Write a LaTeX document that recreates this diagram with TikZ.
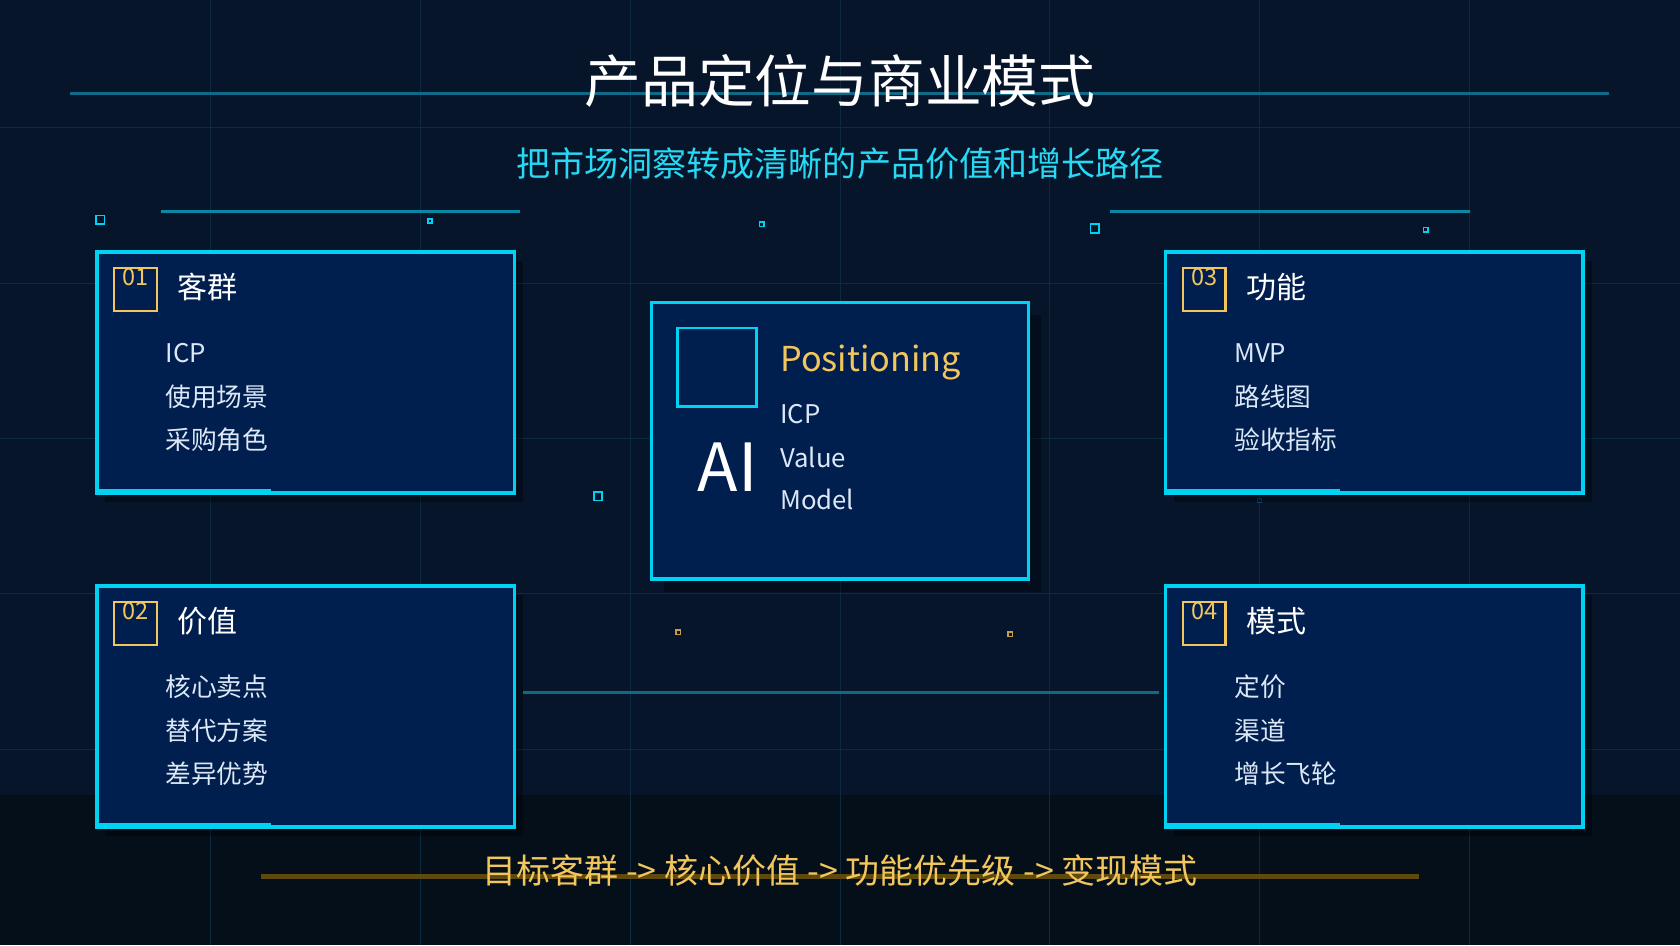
\documentclass[tikz,border=0pt]{standalone}
\usepackage{fontspec}
\setmainfont{Noto Sans CJK SC}
\definecolor{bg}{HTML}{07152B}
\definecolor{bgb}{HTML}{040F1A}
\definecolor{grid}{HTML}{0C2A40}
\definecolor{cy}{HTML}{00D2F2}
\definecolor{teal}{HTML}{0E6A86}
\definecolor{card}{HTML}{001E4E}
\definecolor{gold}{HTML}{F2C65C}
\definecolor{dgold}{HTML}{5E4A0E}
\definecolor{txt}{HTML}{DCE8F6}
\begin{document}
\begin{tikzpicture}[x=1pt,y=-1pt,
  cardst/.style={draw=cy,line width=3.5pt,fill=card},
  shad/.style={fill=black,opacity=0.35},
  badge/.style={draw=gold,line width=2pt},
  num/.style={text=gold,font=\fontsize{22}{22}\selectfont,anchor=north,inner sep=0},
  head/.style={text=white,font=\fontsize{28}{28}\selectfont,anchor=west,inner sep=0},
  item/.style={text=txt,font=\fontsize{24}{24}\selectfont,anchor=west,inner sep=0},
  dot/.style={draw=cy,line width=1.5pt},
  gdot/.style={draw=gold!80!black,line width=1.5pt},
  fdot/.style={draw=teal!50!card,line width=1pt}]
\fill[bg] (0,0) rectangle (1568,882);
\fill[bgb] (0,742) rectangle (1568,882);
\foreach \x in {196,392,588,784,980,1176,1372} \draw[grid,line width=0.8pt] (\x,0) -- (\x,882);
\foreach \y in {119,264,409,554,699} \draw[grid,line width=0.8pt] (0,\y) -- (1568,\y);
% title
\draw[teal,line width=2.5pt] (65,87) -- (1502,87);
\node[text=white,font=\fontsize{53}{53}\selectfont,inner sep=0] (title) at (784,75) {产品定位与商业模式};
\node[text=cy!85!white,font=\fontsize{31.8}{32}\selectfont,inner sep=0] (sub) at (784,152) {把市场洞察转成清晰的产品价值和增长路径};
\draw[teal!70!cy,line width=3pt] (150,197) -- (485,197);
\draw[teal!70!cy,line width=3pt] (1036,197) -- (1372,197);
% dots
\draw[dot] (89,201) rectangle (97,209);
\draw[dot] (399,204) rectangle (403,208);
\draw[dot] (709,207) rectangle (713,211);
\draw[dot] (1018,209) rectangle (1026,217);
\draw[dot] (1329,212) rectangle (1333,216);
\draw[dot] (554,459) rectangle (562,467);
\draw[gdot] (631,588) rectangle (635,592);
\draw[gdot] (941,590) rectangle (945,594);
\draw[fdot] (321,584) rectangle (329,592);
\draw[fdot] (1251,593) rectangle (1259,601);
\draw[fdot] (1097,338) rectangle (1101,342);
\draw[fdot] (1406,340) rectangle (1410,344);
\draw[fdot] (1174,465) rectangle (1178,469);
\draw[fdot] (864,462) rectangle (868,466);
% connector line
\draw[teal,line width=2.5pt] (488,646) -- (1082,646);
% cards
\foreach \cx/\cy/\n/\h/\a/\b/\c in {90/235/01/客群/ICP/使用场景/采购角色, 90/547/02/价值/核心卖点/替代方案/差异优势, 1088/235/03/功能/MVP/路线图/验收指标, 1088/547/04/模式/定价/渠道/增长飞轮}{
  \fill[shad] (\cx+8,\cy+8) rectangle (\cx+398,\cy+233);
  \draw[cardst] (\cx,\cy) rectangle (\cx+390,\cy+225);
  \fill[cy] (\cx,\cy+221) rectangle (\cx+163,\cy+227);
  \draw[badge] (\cx+16,\cy+15) rectangle (\cx+56,\cy+55);
  \node[num] at (\cx+36,\cy+15) {\n};
  \node[head] at (\cx+75,\cy+33) {\h};
  \node[item] at (\cx+64,\cy+94) {\a};
  \node[item] at (\cx+64,\cy+135) {\b};
  \node[item] at (\cx+64,\cy+175) {\c};
}
% center card
\fill[shad] (620,294) rectangle (972,552);
\draw[cardst] (608,282) rectangle (960,540);
\draw[cy,line width=2.5pt] (632,306) rectangle (706,379);
\node[text=white,font=\fontsize{62}{62}\selectfont,inner sep=0] (ai) at (679,436) {AI};
\node[text=gold,font=\fontsize{32}{32}\selectfont,anchor=west,inner sep=0] (pos) at (728,338) {Positioning};
\node[item] at (728,386) {ICP};
\node[item] at (728,427) {Value};
\node[item] at (728,466) {Model};
% bottom
\draw[dgold,line width=4pt] (243,818) -- (1325,818);
\node[text=gold,font=\fontsize{31.7}{32}\selectfont,inner sep=0] (flow) at (784,813) {目标客群 -> 核心价值 -> 功能优先级 -> 变现模式};
\end{tikzpicture}
\end{document}
